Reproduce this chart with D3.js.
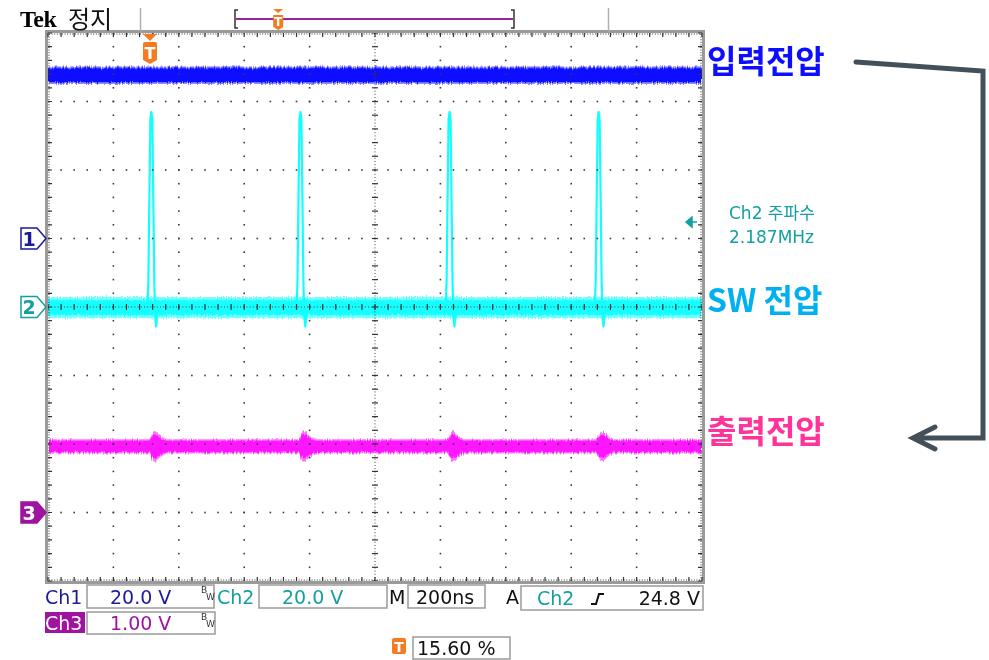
<!DOCTYPE html>
<html>
<head>
<meta charset="utf-8">
<script src="https://cdn.jsdelivr.net/npm/d3@7"></script>
<style>
body { margin: 0; background: #fff; }
svg { display: block; }
</style>
</head>
<body>
<div id="scope"></div>
<script>
// screen is 10 x 8 divisions, 200 ns/div
const timeDomain = [0, 2000]
const divDomain = [-4, 4]

const chNames = ["Ch1", "Ch2", "Ch3"]
const chVoltsPerDiv = [20, 20, 1]
const chScaleLabels = ["20.0 V", "20.0 V", "1.00 V"]
const chGroundDiv = [1, 0, -3]
const chTraceColors = ["#0c0cff", "#12ffff", "#ff12ff"]
const chLabelColors = ["#1a1a9c", "#14a0a0", "#a012a0"]

// trace levels and noise half-band (volts)
const chLevels = [47.7, -0.2, 0.965]
const chNoise = [2.5, 3.1, 0.105]

// switching spikes on Ch2 (ns) and their shape
const spikeTimes = [316, 772, 1228, 1684]
const spikeOffsets = [-12, -9, -6, -3, 0, 3, 6, 9, 12, 15, 18, 24]
const spikeVolts = [0, 8, 32, 55, 57.2, 55, 32, 8, -3, -5.5, -2, 0]

// ringing burst on Ch3 after each spike (extra half-band, V)
const burstOffsets = [-6, 0, 6, 12, 18, 24, 33, 45]
const burstExtra = [0, 0.05, 0.11, 0.12, 0.09, 0.06, 0.03, 0]

const timebase = "200ns"
const trigSource = "Ch2"
const trigLevel = 24.8
const trigLevelLabel = "24.8 V"
const trigPosPct = 15.6
const trigPosLabel = "15.60 %"
const freqLabel = ["Ch2 주파수", "2.187MHz"]
const annotations = ["입력전압", "SW 전압", "출력전압"]
const annotationColors = ["#0d0dff", "#00b0f0", "#ff3399"]

const width = 989
const height = 660
const screen = {left: 48, right: 702, top: 33, bottom: 581}

const svg = d3.select("#scope")
    .append("svg")
    .attr("width", width)
    .attr("height", height)
    .attr("viewBox", [0, 0, width, height])

const x = d3.scaleLinear().domain(timeDomain).range([screen.left, screen.right])
const yDiv = d3.scaleLinear().domain(divDomain).range([screen.bottom, screen.top])
const yCh = (i, v) => yDiv(chGroundDiv[i] + v / chVoltsPerDiv[i])
const xDiv = d3.scaleLinear().domain([0, 10]).range([screen.left, screen.right])

const defs = svg.append("defs")
const jitter = defs.append("filter")
    .attr("id", "jitter")
    .attr("filterUnits", "userSpaceOnUse")
    .attr("x", 0).attr("y", 0).attr("width", width).attr("height", height)
jitter.append("feTurbulence")
    .attr("type", "fractalNoise")
    .attr("baseFrequency", "0.8 0.05")
    .attr("numOctaves", 2)
    .attr("seed", 4)
    .attr("result", "noise")
jitter.append("feDisplacementMap")
    .attr("in", "SourceGraphic")
    .attr("in2", "noise")
    .attr("scale", 5)
    .attr("xChannelSelector", "B")
    .attr("yChannelSelector", "G")

// grid sits above the traces, as on the scope screen
const layer_trace = svg.append("g")
const layer_grid = svg.append("g")
const layer_marks = svg.append("g")
const layer_text = svg.append("g")

// ---- graticule
const minor = d3.range(0, 50.01, 1).map(d => d / 5)
const minorY = d3.range(-20, 20.01, 1).map(d => d / 5)

d3.range(1, 10).filter(d => d !== 5).forEach(i => {
    layer_grid.append("g").selectAll("rect")
        .data(minorY)
        .join("rect")
        .attr("x", xDiv(i) - 0.8).attr("y", d => yDiv(d) - 0.8)
        .attr("width", 1.6).attr("height", 1.6)
        .attr("fill", "#3a3a3a")
})
d3.range(-3, 4).filter(d => d !== 0).forEach(j => {
    layer_grid.append("g").selectAll("rect")
        .data(minor)
        .join("rect")
        .attr("x", d => xDiv(d) - 0.8).attr("y", yDiv(j) - 0.8)
        .attr("width", 1.6).attr("height", 1.6)
        .attr("fill", "#3a3a3a")
})

// center cross
layer_grid.append("line")
    .attr("x1", screen.left).attr("x2", screen.right)
    .attr("y1", yDiv(0)).attr("y2", yDiv(0))
    .attr("stroke", "#444").attr("stroke-dasharray", "1,2.2")
layer_grid.append("line")
    .attr("x1", xDiv(5)).attr("x2", xDiv(5))
    .attr("y1", screen.top).attr("y2", screen.bottom)
    .attr("stroke", "#444").attr("stroke-dasharray", "1,2.2")
layer_grid.append("g").selectAll("line")
    .data(minor)
    .join("line")
    .attr("x1", d => xDiv(d)).attr("x2", d => xDiv(d))
    .attr("y1", yDiv(0) - 3).attr("y2", yDiv(0) + 3)
    .attr("stroke", "#333").attr("stroke-width", 1.2)
layer_grid.append("g").selectAll("line")
    .data(minorY)
    .join("line")
    .attr("x1", xDiv(5) - 3).attr("x2", xDiv(5) + 3)
    .attr("y1", d => yDiv(d)).attr("y2", d => yDiv(d))
    .attr("stroke", "#333").attr("stroke-width", 1.2)

// frame with ticks
layer_grid.append("rect")
    .attr("x", screen.left - 1.5).attr("y", screen.top - 1.5)
    .attr("width", screen.right - screen.left + 3)
    .attr("height", screen.bottom - screen.top + 3)
    .attr("fill", "none").attr("stroke", "#9a9a9a").attr("stroke-width", 3)
const edgeDots = [
    [screen.left + 1, screen.top + 1, screen.right - 1, screen.top + 1],
    [screen.left + 1, screen.bottom - 1, screen.right - 1, screen.bottom - 1],
    [screen.left + 1, screen.top + 1, screen.left + 1, screen.bottom - 1],
    [screen.right - 1, screen.top + 1, screen.right - 1, screen.bottom - 1]
]
layer_grid.append("g").selectAll("line")
    .data(edgeDots)
    .join("line")
    .attr("x1", d => d[0]).attr("y1", d => d[1])
    .attr("x2", d => d[2]).attr("y2", d => d[3])
    .attr("stroke", "#333").attr("stroke-dasharray", "1,1.6")
layer_grid.append("g").selectAll("path")
    .data(minor)
    .join("path")
    .attr("d", d => `M${xDiv(d)},${screen.top}v4M${xDiv(d)},${screen.bottom}v-4`)
    .attr("stroke", "#333").attr("stroke-width", 1.2)
layer_grid.append("g").selectAll("path")
    .data(minorY)
    .join("path")
    .attr("d", d => `M${screen.left},${yDiv(d)}h4M${screen.right},${yDiv(d)}h-4`)
    .attr("stroke", "#333").attr("stroke-width", 1.2)

// ---- traces
const flatBand = (i, scale) => d3.area()
    .x(d => x(d))
    .y0(() => yCh(i, chLevels[i] - chNoise[i] * scale))
    .y1(() => yCh(i, chLevels[i] + chNoise[i] * scale))

const traces = layer_trace.append("g").attr("filter", "url(#jitter)")

// Ch1 input
traces.append("path").datum(timeDomain)
    .attr("d", flatBand(0, 1)).attr("fill", chTraceColors[0]).attr("opacity", 0.6)
traces.append("path").datum(timeDomain)
    .attr("d", flatBand(0, 0.8)).attr("fill", chTraceColors[0])

// Ch2 switch node
traces.append("path").datum(timeDomain)
    .attr("d", flatBand(1, 1)).attr("fill", chTraceColors[1]).attr("opacity", 0.6)
traces.append("path").datum(timeDomain)
    .attr("d", flatBand(1, 0.7)).attr("fill", chTraceColors[1])

// Ch3 output with ringing bursts
const ch3Points = [{t: timeDomain[0], h: chNoise[2]}]
spikeTimes.forEach(s => {
    burstOffsets.forEach((o, k) => ch3Points.push({t: s + o, h: chNoise[2] + burstExtra[k]}))
})
ch3Points.push({t: timeDomain[1], h: chNoise[2]})
const ch3Area = scale => d3.area()
    .x(d => x(d.t))
    .y0(d => yCh(2, chLevels[2] - d.h * scale))
    .y1(d => yCh(2, chLevels[2] + d.h * scale))
traces.append("path").datum(ch3Points)
    .attr("d", ch3Area(1)).attr("fill", chTraceColors[2]).attr("opacity", 0.6)
traces.append("path").datum(ch3Points)
    .attr("d", ch3Area(0.78)).attr("fill", chTraceColors[2])

const spikeLine = d3.line()
    .x(d => x(d[0]))
    .y(d => yCh(1, d[1]))
layer_trace.append("g")
    .selectAll("path")
    .data(spikeTimes.map(s => spikeOffsets.map((o, k) => [s + o, chLevels[1] + spikeVolts[k]])))
    .join("path")
    .attr("d", spikeLine)
    .attr("fill", "none")
    .attr("stroke", chTraceColors[1])
    .attr("stroke-width", 2.2)
    .attr("stroke-linejoin", "round")

// ---- channel ground markers
chNames.forEach((name, i) => {
    const yc = yDiv(chGroundDiv[i])
    const filled = i === 2
    const g = layer_marks.append("g")
    g.append("path")
        .attr("d", `M21,${yc - 10.5}H37L46,${yc}L37,${yc + 10.5}H21Z`)
        .attr("fill", filled ? chLabelColors[i] : "#fff")
        .attr("stroke", chLabelColors[i]).attr("stroke-width", 1.5)
    g.append("text")
        .attr("x", 29).attr("y", yc + 7)
        .attr("text-anchor", "middle")
        .attr("font-family", "DejaVu Sans").attr("font-weight", "bold").attr("font-size", 19)
        .attr("fill", filled ? "#fff" : chLabelColors[i])
        .text(i + 1)
})

// trigger level arrow
const yTrig = yCh(1, trigLevel)
layer_marks.append("path")
    .attr("d", `M686,${yTrig}L692,${yTrig - 5}V${yTrig + 5}Z M692,${yTrig}H697`)
    .attr("fill", chLabelColors[1]).attr("stroke", chLabelColors[1]).attr("stroke-width", 1.5)

// trigger position marker
const orange = "#f47b20"
const xTrig = x(timeDomain[0] + (timeDomain[1] - timeDomain[0]) * trigPosPct / 100)
layer_marks.append("path")
    .attr("d", `M${xTrig - 7},34H${xTrig + 7}L${xTrig},41Z`)
    .attr("fill", orange)
layer_marks.append("path")
    .attr("d", `M${xTrig - 7},44Q${xTrig - 7},42 ${xTrig - 5},42H${xTrig + 5}Q${xTrig + 7},42 ${xTrig + 7},44V60L${xTrig},64L${xTrig - 7},60Z`)
    .attr("fill", orange)
layer_marks.append("text")
    .attr("x", xTrig).attr("y", 59)
    .attr("text-anchor", "middle")
    .attr("font-family", "DejaVu Sans").attr("font-weight", "bold").attr("font-size", 16)
    .attr("fill", "#fff").text("T")

// ---- header
layer_text.append("text")
    .attr("x", 20).attr("y", 27)
    .attr("font-family", "Liberation Serif").attr("font-weight", "bold").attr("font-size", 24)
    .attr("letter-spacing", -0.5)
    .attr("fill", "#000").text("Tek")
layer_text.append("text")
    .attr("x", 68).attr("y", 28)
    .attr("font-family", "Noto Sans CJK KR").attr("font-size", 24)
    .attr("fill", "#111").text("정지")
layer_text.selectAll("line.sep")
    .data([140.5, 608.5])
    .join("line")
    .attr("x1", d => d).attr("x2", d => d)
    .attr("y1", 8).attr("y2", 31)
    .attr("stroke", "#b0b0b0").attr("stroke-width", 1.5)

const rec = d3.scaleLinear().domain([0, 100]).range([236, 513])
layer_text.append("line")
    .attr("x1", rec(0)).attr("x2", rec(100)).attr("y1", 19).attr("y2", 19)
    .attr("stroke", "#a020a0").attr("stroke-width", 2)
layer_text.append("path")
    .attr("d", `M${rec(0) + 2},10H${rec(0) - 1}V28H${rec(0) + 2}M${rec(100) - 2},10H${rec(100) + 1}V28H${rec(100) - 2}`)
    .attr("fill", "none").attr("stroke", "#333").attr("stroke-width", 1.5)
const xr = rec(trigPosPct) - 1
layer_text.append("path")
    .attr("d", `M${xr - 5},9H${xr + 5}L${xr},13Z M${xr - 5},15H${xr + 5}V27L${xr},30L${xr - 5},27Z`)
    .attr("fill", orange)
layer_text.append("text")
    .attr("x", xr).attr("y", 26)
    .attr("text-anchor", "middle")
    .attr("font-family", "DejaVu Sans").attr("font-weight", "bold").attr("font-size", 12)
    .attr("fill", "#fff").text("T")

// ---- status bar
const statusFont = "DejaVu Sans"
const box = (bx, by, bw, bh) => layer_text.append("rect")
    .attr("x", bx).attr("y", by).attr("width", bw).attr("height", bh)
    .attr("fill", "#fff").attr("stroke", "#9a9a9a").attr("stroke-width", 1.5)
const label = (tx, ty, str, color, anchor) => layer_text.append("text")
    .attr("x", tx).attr("y", ty)
    .attr("text-anchor", anchor || "start")
    .attr("font-family", statusFont).attr("font-size", 19)
    .attr("fill", color).text(str)
const bw = (tx, ty) => {
    layer_text.append("text").attr("x", tx).attr("y", ty)
        .attr("font-family", statusFont).attr("font-size", 9).attr("fill", "#333").text("B")
    layer_text.append("text").attr("x", tx + 5).attr("y", ty + 7)
        .attr("font-family", statusFont).attr("font-size", 9).attr("fill", "#333").text("W")
}

box(87, 585, 127, 23)
label(45, 604, chNames[0], chLabelColors[0])
label(110, 604, chScaleLabels[0], chLabelColors[0])
bw(201, 593)

box(259, 585, 128, 23)
label(217, 604, chNames[1], chLabelColors[1])
label(282, 604, chScaleLabels[1], chLabelColors[1])

label(389, 604, "M", "#111")
box(408, 585, 77, 23)
label(416, 604, timebase, "#111")

label(506, 604, "A", "#111")
box(521, 586, 182, 24)
label(537, 605, trigSource, chLabelColors[1])
layer_text.append("path")
    .attr("d", "M591,604H596L599,594H604")
    .attr("fill", "none").attr("stroke", "#111").attr("stroke-width", 2)
label(700, 605, trigLevelLabel, "#111", "end")

layer_text.append("rect")
    .attr("x", 45).attr("y", 612).attr("width", 40).attr("height", 21)
    .attr("fill", chLabelColors[2])
label(45, 630, chNames[2], "#fff")
box(87, 612, 128, 22)
label(110, 630, chScaleLabels[2], chLabelColors[2])
bw(201, 620)

layer_text.append("rect")
    .attr("x", 392).attr("y", 638).attr("width", 14).attr("height", 16).attr("rx", 2)
    .attr("fill", orange)
layer_text.append("text")
    .attr("x", 399).attr("y", 652)
    .attr("text-anchor", "middle")
    .attr("font-family", statusFont).attr("font-weight", "bold").attr("font-size", 14)
    .attr("fill", "#fff").text("T")
box(413, 637, 97, 22)
label(417, 655, trigPosLabel, "#111")

// ---- annotations
layer_text.append("g").selectAll("text")
    .data(freqLabel)
    .join("text")
    .attr("x", 729).attr("y", (d, i) => 219 + i * 24)
    .attr("font-family", "DejaVu Sans, Noto Sans CJK KR").attr("font-size", 17)
    .attr("fill", chLabelColors[1])
    .text(d => d)

layer_text.append("g").selectAll("text")
    .data(annotations)
    .join("text")
    .attr("x", 707)
    .attr("y", (d, i) => [yCh(0, chLevels[0]) - 2, yCh(1, chLevels[1]) + 4, yCh(2, chLevels[2]) - 3][i])
    .attr("font-family", "Noto Sans CJK KR").attr("font-weight", "bold").attr("font-size", 32)
    .attr("fill", (d, i) => annotationColors[i])
    .text(d => d)

layer_text.append("path")
    .attr("d", "M856,62L983,71V438H914 M935,427L913,438L935,449")
    .attr("fill", "none")
    .attr("stroke", "#434f59").attr("stroke-width", 5)
    .attr("stroke-linejoin", "miter").attr("stroke-linecap", "round")
</script>
</body>
</html>
